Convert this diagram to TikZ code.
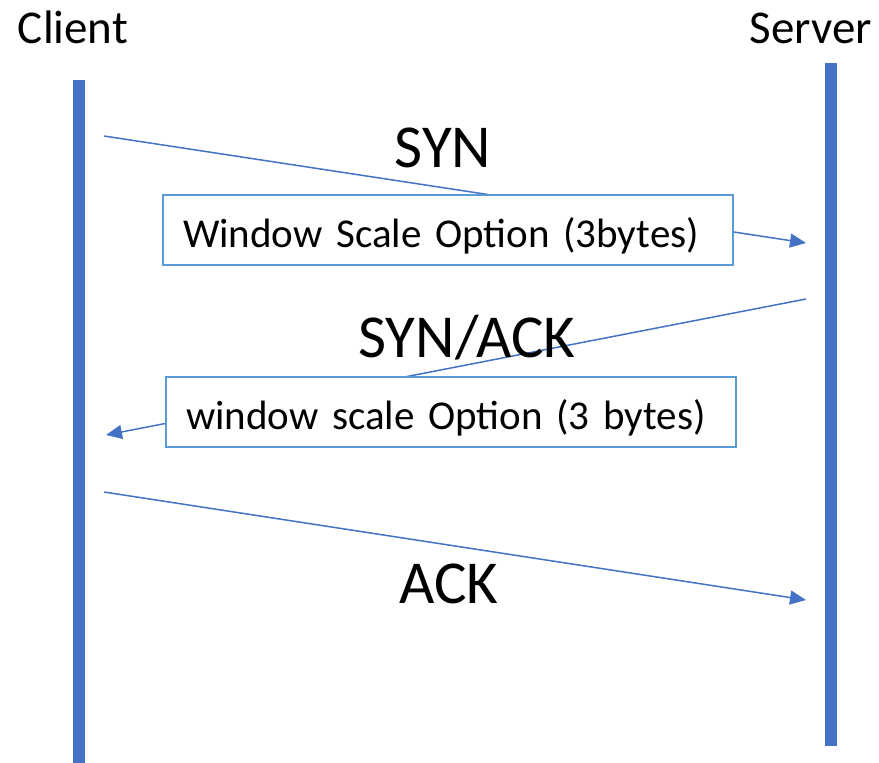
\documentclass[tikz,border=0pt]{standalone}
\usepackage{fontspec}
\setmainfont{Carlito}
\usetikzlibrary{arrows.meta}
\definecolor{bar}{HTML}{4472C4}
\definecolor{frame}{HTML}{5B9BD5}

\begin{document}
\begin{tikzpicture}[x=1pt,y=-1pt,>={Triangle[length=16pt,width=14pt]}]
  \tikzstyle{life}=[bar,line width=12pt]
  \tikzstyle{msg}=[bar,line width=1.5pt,->]
  \tikzstyle{opt}=[draw=frame,line width=2.5pt,fill=white,minimum width=570pt,minimum height=70pt,text width=530pt,align=left,inner xsep=20pt,text height=40pt,text depth=6pt,font=\fontsize{41}{49}\selectfont]
  \tikzstyle{big}=[anchor=base,font=\fontsize{61}{70}\selectfont]
  \tikzstyle{host}=[anchor=base,font=\fontsize{47}{56}\selectfont]
  \useasboundingbox (0,0) rectangle (879,763);
  % hosts and lifelines
  \node[host] (client) at (73,43) {Client};
  \node[host] (server) at (811,43) {Server};
  \coordinate (ctop) at (79,80);
  \coordinate (cbot) at (79,763);
  \coordinate (stop) at (831,63);
  \coordinate (sbot) at (831,746);
  \draw[life] (ctop) -- (cbot);
  \draw[life] (stop) -- (sbot);
  % handshake messages
  \coordinate (c1) at (104,136);
  \coordinate (s1) at (806,243);
  \coordinate (s2) at (806,299);
  \coordinate (c2) at (106,435);
  \coordinate (c3) at (104,492);
  \coordinate (s3) at (806,600);
  \draw[msg] (c1) -- (s1);
  \draw[msg] (s2) -- (c2);
  \draw[msg] (c3) -- (s3);
  \node[big] (syn) at (443,167) {SYN};
  \node[big] (synack) at (467,357) {SYN/ACK};
  \node[big] (ack) at (449,603) {ACK};
  % option boxes sit on top of the lines
  \node[opt] (wso1) at (448,230) {Window Scale Option (3bytes)};
  \node[opt] (wso2) at (451,412) {window scale Option (3 bytes)};
\end{tikzpicture}
\end{document}
